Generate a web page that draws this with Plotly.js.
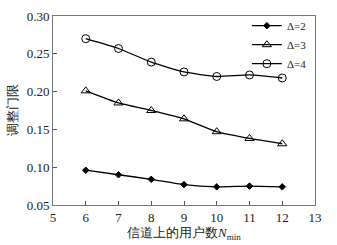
<!DOCTYPE html>
<html><head><meta charset="utf-8">
<script src="https://cdn.plot.ly/plotly-3.0.1.min.js"></script>
<style>html,body{margin:0;padding:0;background:#fff}#c{width:337px;height:245px}</style>
</head><body><div id="c"></div>
<script>
var users = [6, 7, 8, 9, 10, 11, 12];
var delta2 = [0.096, 0.090, 0.084, 0.077, 0.074, 0.075, 0.074];
var delta3 = [0.201, 0.185, 0.175, 0.164, 0.147, 0.138, 0.131];
var delta4 = [0.270, 0.257, 0.239, 0.226, 0.220, 0.222, 0.218];
var names = ['Δ=2', 'Δ=3', 'Δ=4'];
var yTicks = [0.05, 0.10, 0.15, 0.20, 0.25, 0.30];
var xTicks = [5, 6, 7, 8, 9, 10, 11, 12, 13];

var F = 'Times New Roman, Times, DejaVu Serif, serif';
function tr(y, name, sym, size) {
  return {x: users, y: y, name: name, type: 'scatter', mode: 'lines+markers',
    line: {color: '#000', width: 1.3, shape: 'spline', smoothing: 0.5},
    marker: {symbol: sym, size: size, color: '#000', line: {color: '#000', width: 1}}};
}
var data = [
  tr(delta2, names[0], 'diamond', 5),
  tr(delta3, names[1], 'triangle-up-open', 8),
  tr(delta4, names[2], 'circle-open', 8)
];
var layout = {
  width: 337, height: 245,
  margin: {l: 53, r: 22, t: 15, b: 40},
  paper_bgcolor: '#fff', plot_bgcolor: '#fff',
  font: {family: F, size: 13, color: '#222'},
  showlegend: true,
  legend: {x: 0.74, y: 1.02, xanchor: 'left', yanchor: 'top', bgcolor: 'rgba(0,0,0,0)',
    font: {family: F, size: 11, color: '#222'}, tracegroupgap: 0, itemwidth: 30},
  xaxis: {range: [5, 13], tickvals: xTicks, ticktext: xTicks.map(String),
    ticks: 'inside', ticklen: 4, tickcolor: '#555', showgrid: false, zeroline: false,
    showline: true, linecolor: '#777', linewidth: 1, mirror: true,
    tickfont: {family: F, size: 13},
    title: {text: '信道上的用户数<i>N</i><sub>min</sub>', standoff: 4, font: {family: F, size: 13}}},
  yaxis: {range: [0.05, 0.30], tickvals: yTicks, ticktext: yTicks.map(function(v){return v.toFixed(2);}),
    ticks: 'inside', ticklen: 4, tickcolor: '#555', showgrid: false, zeroline: false,
    showline: true, linecolor: '#777', linewidth: 1, mirror: true,
    tickfont: {family: F, size: 13},
    title: {text: '调整门限', standoff: 6, font: {family: F, size: 13}}}
};
Plotly.newPlot('c', data, layout, {displayModeBar: false, staticPlot: true});
</script></body></html>
